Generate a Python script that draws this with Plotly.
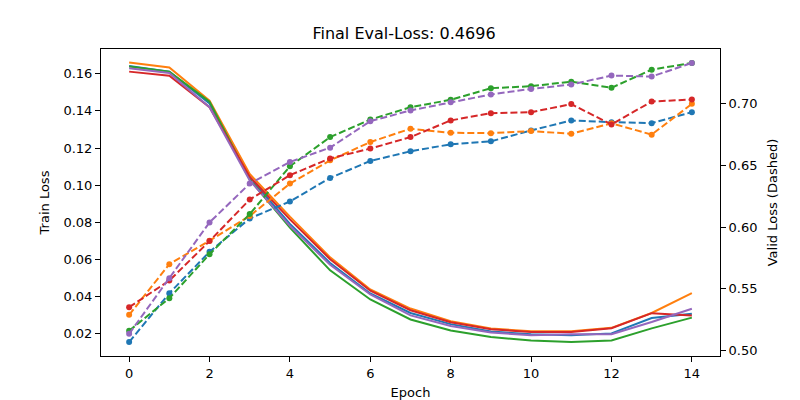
import plotly.graph_objects as go

epochs = list(range(15))

train_blue = [0.1643, 0.1612, 0.1440, 0.1040, 0.0790, 0.0580, 0.0415, 0.0310, 0.0250, 0.0210, 0.0195, 0.0190, 0.0200, 0.0283, 0.0306]
train_orange = [0.1661, 0.1634, 0.1455, 0.1060, 0.0830, 0.0610, 0.0437, 0.0334, 0.0266, 0.0227, 0.0211, 0.0211, 0.0230, 0.0310, 0.0417]
train_green = [0.1640, 0.1612, 0.1450, 0.1030, 0.0770, 0.0540, 0.0383, 0.0275, 0.0216, 0.0180, 0.0162, 0.0153, 0.0162, 0.0227, 0.0285]
train_red = [0.1612, 0.1590, 0.1420, 0.1045, 0.0815, 0.0600, 0.0430, 0.0325, 0.0260, 0.0222, 0.0208, 0.0208, 0.0228, 0.0309, 0.0297]
train_purple = [0.1630, 0.1605, 0.1420, 0.1025, 0.0780, 0.0570, 0.0410, 0.0297, 0.0240, 0.0205, 0.0190, 0.0195, 0.0195, 0.0261, 0.0333]

valid_blue = [0.5070, 0.5465, 0.5800, 0.6070, 0.6207, 0.6398, 0.6535, 0.6613, 0.6670, 0.6694, 0.6782, 0.6863, 0.6849, 0.6841, 0.6930]
valid_orange = [0.5290, 0.5700, 0.5890, 0.6090, 0.6352, 0.6540, 0.6688, 0.6796, 0.6763, 0.6760, 0.6777, 0.6755, 0.6840, 0.6748, 0.6997]
valid_green = [0.5161, 0.5425, 0.5780, 0.6105, 0.6492, 0.6728, 0.6870, 0.6970, 0.7030, 0.7124, 0.7140, 0.7177, 0.7127, 0.7274, 0.7328]
valid_red = [0.5352, 0.5567, 0.5887, 0.6223, 0.6420, 0.6556, 0.6635, 0.6728, 0.6863, 0.6922, 0.6930, 0.6995, 0.6830, 0.7016, 0.7032]
valid_purple = [0.5137, 0.5586, 0.6038, 0.6352, 0.6527, 0.6643, 0.6857, 0.6944, 0.7010, 0.7073, 0.7118, 0.7153, 0.7226, 0.7218, 0.7328]

colors = ["#1f77b4", "#ff7f0e", "#2ca02c", "#d62728", "#9467bd"]
train = [train_blue, train_orange, train_green, train_red, train_purple]
valid = [valid_blue, valid_orange, valid_green, valid_red, valid_purple]

fig = go.Figure()

for ys, c in zip(train, colors):
    fig.add_trace(go.Scatter(x=epochs, y=ys, mode="lines",
                             line=dict(color=c, width=2), showlegend=False))

for ys, c in zip(valid, colors):
    fig.add_trace(go.Scatter(x=epochs, y=ys, mode="lines+markers", yaxis="y2",
                             line=dict(color=c, width=2, dash="7px,3px"),
                             marker=dict(color=c, size=6), showlegend=False))

axis_style = dict(showline=True, linecolor="black", linewidth=1, mirror=True,
                  ticks="outside", ticklen=5, tickcolor="black", showgrid=False,
                  zeroline=False, automargin=False, tickfont=dict(size=13, color="black"))

# the page body adds an 8px offset, so the figure is a bit smaller than the window
fig.update_layout(
    width=792, height=392,
    margin=dict(l=93, r=80, t=41, b=44),
    paper_bgcolor="white", plot_bgcolor="white",
    font=dict(family="DejaVu Sans", color="black"),
    title=dict(text="Final Eval-Loss: 0.4696", x=0.5, xanchor="center",
               y=0.936, yanchor="middle", font=dict(size=16)),
    xaxis=dict(range=[-0.7, 14.7], tickvals=list(range(0, 15, 2)),
               title=dict(text="Epoch", font=dict(size=13), standoff=9), **axis_style),
    yaxis=dict(range=[0.0078, 0.1734], tickvals=[0.02, 0.04, 0.06, 0.08, 0.10, 0.12, 0.14, 0.16],
               tickformat=".2f", title=dict(text="Train Loss", font=dict(size=13), standoff=10),
               **axis_style),
    yaxis2=dict(range=[0.4957, 0.7441], tickvals=[0.50, 0.55, 0.60, 0.65, 0.70],
                tickformat=".2f", overlaying="y", side="right",
                title=dict(text="Valid Loss (Dashed)", font=dict(size=13), standoff=11),
                **axis_style),
)

fig.write_html("out.html")
